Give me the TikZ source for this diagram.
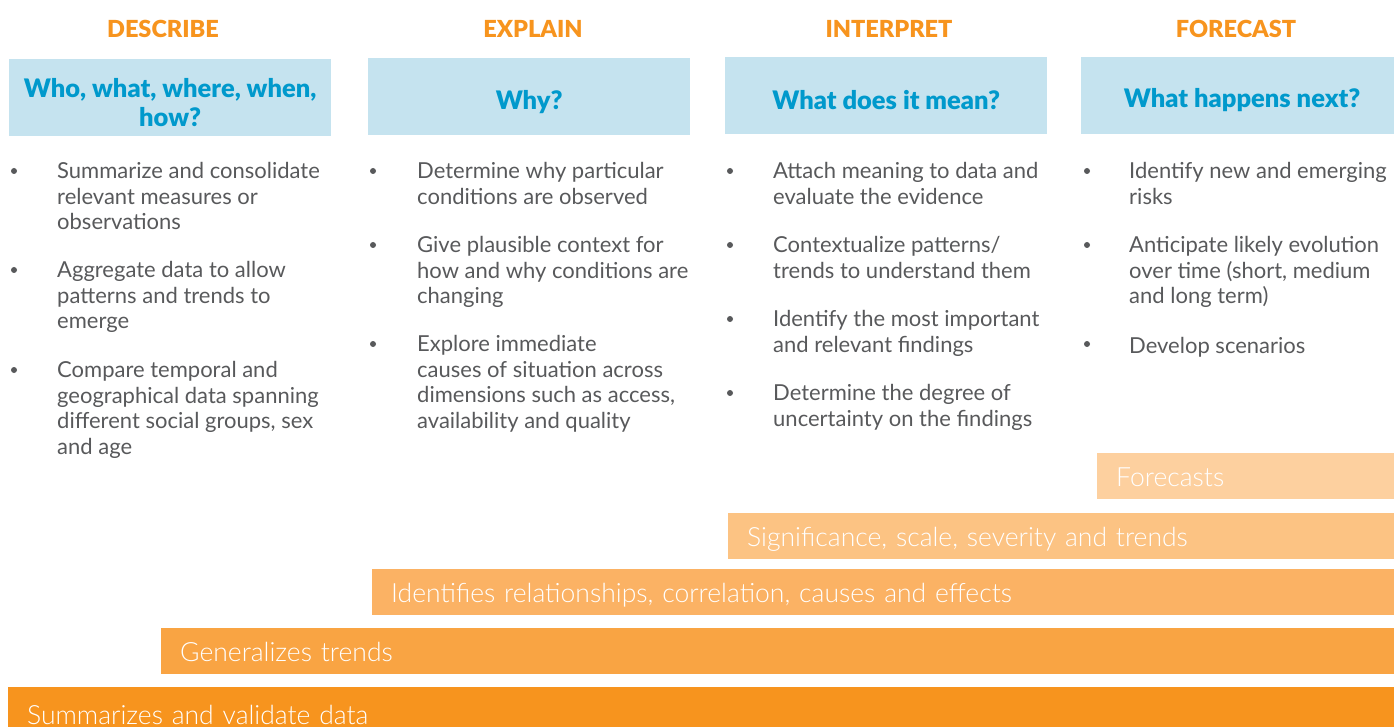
\documentclass[tikz,border=0pt]{standalone}
\usepackage{fontspec}
\setmainfont{Lato}
\newfontfamily\lightfont{Lato Light}
\newfontfamily\blackfont{Lato Black}
\definecolor{orng}{HTML}{F7941E}
\definecolor{boxblue}{HTML}{C5E3EF}
\definecolor{qteal}{HTML}{0099CC}
\definecolor{bodygray}{HTML}{58595B}
\definecolor{barA}{HTML}{F7941E}
\definecolor{barB}{HTML}{F9A443}
\definecolor{barC}{HTML}{FBB264}
\definecolor{barD}{HTML}{FCC383}
\definecolor{barE}{HTML}{FDD09F}
\tikzset{
  head/.style={text=orng, font=\blackfont\fontsize{23.5}{27}\selectfont, inner sep=0},
  qbox/.style={anchor=north west, fill=boxblue, inner sep=0, minimum width=322, minimum height=77},
  qtext/.style={text=qteal, inner sep=0, align=center, font=\blackfont\fontsize{25.5}{29}\selectfont},
  item/.style={anchor=north west, inner sep=0, align=left, text=bodygray, font=\fontsize{22}{25.5}\selectfont, execute at begin node=\strut},
  bul/.style={circle, fill=bodygray, inner sep=0, minimum size=6},
  bar/.style={anchor=north west, inner ysep=0, inner xsep=19, minimum height=46, text height=22, text depth=2, align=left, text=white, font=\lightfont\fontsize{26.5}{30}\selectfont},
}
\begin{document}
\begin{tikzpicture}[x=1pt,y=-1pt]
\useasboundingbox (0,0) rectangle (1394,727);
% headings
\node[head] (h1) at (163,29) {DESCRIBE};
\node[head] (h2) at (533,29) {EXPLAIN};
\node[head] (h3) at (889,29) {INTERPRET};
\node[head] (h4) at (1236,29) {FORECAST};
% question boxes
\node[qbox] (q1) at (9,59) {};
\node[qbox] (q2) at (368,58) {};
\node[qbox] (q3) at (725,57) {};
\node[qbox] (q4) at (1081,57) {};
\node[qtext] (q1t) at ([yshift=-5pt]q1.center) {Who, what, where, when,\\how?};
\node[qtext] (q2t) at ([yshift=-5pt]q2.center) {Why?};
\node[qtext] (q3t) at ([yshift=-4pt]q3.center) {What does it mean?};
\node[qtext] (q4t) at ([yshift=-4pt]q4.center) {What happens next?};
% describe items
\node[bul] (d1b) at (14,171) {}; \node[item] (d1) at (57,162.5) {Summarize and consolidate\\relevant measures or\\observations};
\node[bul] (d2b) at (14,270) {}; \node[item] (d2) at (57,261.5) {Aggregate data to allow\\patterns and trends to\\emerge};
\node[bul] (d3b) at (14,370) {}; \node[item] (d3) at (57,361.5) {Compare temporal and\\geographical data spanning\\different social groups, sex\\and age};
% explain items
\node[bul] (e1b) at (373,171) {}; \node[item] (e1) at (417,162.5) {Determine why particular\\conditions are observed};
\node[bul] (e2b) at (373,245) {}; \node[item] (e2) at (417,236.5) {Give plausible context for\\how and why conditions are\\changing};
\node[bul] (e3b) at (373,344) {}; \node[item] (e3) at (417,335.5) {Explore immediate\\causes of situation across\\dimensions such as access,\\availability and quality};
% interpret items
\node[bul] (i1b) at (730,171) {}; \node[item] (i1) at (773,162.5) {Attach meaning to data and\\evaluate the evidence};
\node[bul] (i2b) at (730,245) {}; \node[item] (i2) at (773,236.5) {Contextualize patterns/\\trends to understand them};
\node[bul] (i3b) at (730,319) {}; \node[item] (i3) at (773,310.5) {Identify the most important\\and relevant findings};
\node[bul] (i4b) at (730,393) {}; \node[item] (i4) at (773,384.5) {Determine the degree of\\uncertainty on the findings};
% forecast items
\node[bul] (f1b) at (1087,171) {}; \node[item] (f1) at (1129,162.5) {Identify new and emerging\\risks};
\node[bul] (f2b) at (1087,245) {}; \node[item] (f2) at (1129,236.5) {Anticipate likely evolution\\over time (short, medium\\and long term)};
\node[bul] (f3b) at (1087,344) {}; \node[item] (f3) at (1129,335.5) {Develop scenarios};
% bars
\node[bar, fill=barE, text width=1394-1097-38] (b5) at (1097,453) {Forecasts};
\node[bar, fill=barD, text width=1394-728-38] (b4) at (728,513) {Significance, scale, severity and trends};
\node[bar, fill=barC, text width=1394-372-38] (b3) at (372,569) {Identifies relationships, correlation, causes and effects};
\node[bar, fill=barB, text width=1394-161-38] (b2) at (161,628) {Generalizes trends};
\node[bar, fill=barA, text width=1394-8-38, minimum height=54] (b1) at (8,687) {Summarizes and validate data};
\end{tikzpicture}
\end{document}
